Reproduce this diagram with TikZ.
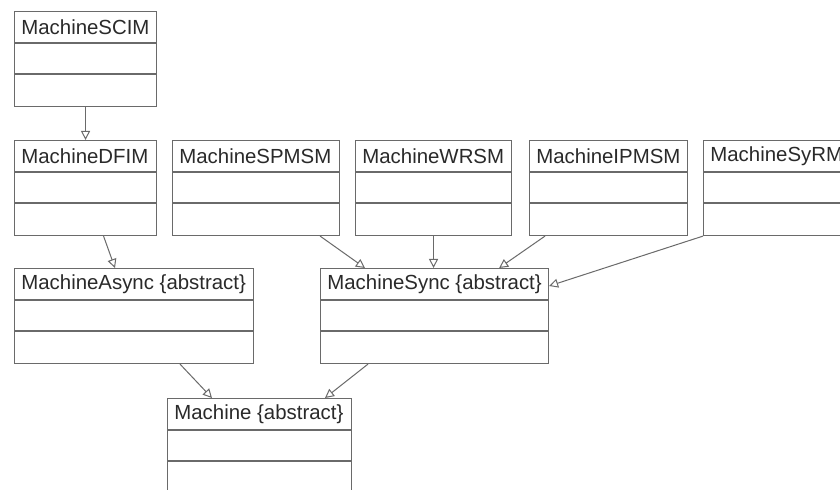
\documentclass[tikz,border=0pt]{standalone}
\usepackage{fontspec}
\setmainfont{Liberation Sans}
\usepackage{tikz}
\usetikzlibrary{arrows.meta}

\definecolor{boxgray}{HTML}{6A6A6A}
\definecolor{textgray}{HTML}{2A2A2A}

\tikzset{
  classbox/.style={draw=boxgray, line width=0.55pt, anchor=north west, inner sep=0pt, minimum height=47.5pt},
  classname/.style={anchor=west, inner sep=0pt, text=textgray, font=\fontsize{10.2}{12}\selectfont},
  inherit/.style={draw=boxgray, line width=0.5pt, -{Triangle[open, length=4.5pt, width=4.5pt]}}
}

% name, x, y, width (px), title
\newcommand{\umlclass}[5]{%
  \node[classbox, minimum width=#4*0.5pt] (#1) at (#2,#3) {};
  \draw[boxgray, line width=0.55pt] ([yshift=-16pt]#1.north west) -- ([yshift=-16pt]#1.north east)
    ([yshift=-31.5pt]#1.north west) -- ([yshift=-31.5pt]#1.north east);
  \node[classname] (#1-title) at ([xshift=3.5pt,yshift=-8pt]#1.north west) {#5};
}

\begin{document}
\begin{tikzpicture}[x=0.5pt, y=-0.5pt]
			\clip (0,0) rectangle (840,490);
			\fill[white] (0,0) rectangle (840,490);
			
			\umlclass{scim}{14}{11}{142}{MachineSCIM}
			
			\umlclass{dfim}{14}{140}{142}{MachineDFIM}
			\umlclass{spmsm}{172}{140}{167}{MachineSPMSM}
			\umlclass{wrsm}{355}{140}{156}{MachineWRSM}
			\umlclass{ipmsm}{529}{140}{158}{MachineIPMSM}
			\umlclass{syrm}{703}{140}{160}{MachineSyRM}
			
			\umlclass{async}{14}{268}{239}{MachineAsync {\{}abstract{\}}}
			\umlclass{sync}{320}{268}{228}{MachineSync {\{}abstract{\}}}
			
			\umlclass{machine}{167}{398}{184}{Machine {\{}abstract{\}}}
			
			% generalisations
			\draw[inherit] (scim.south) -- (dfim.north);
			\draw[inherit] ([xshift=9pt]dfim.south) -- ([xshift=50.5pt]async.north west);
			
			\draw[inherit] ([xshift=-10pt]spmsm.south east) -- ([xshift=22.5pt]sync.north west);
			\draw[inherit] (wrsm.south) -- (wrsm.south |- sync.north);
			\draw[inherit] ([xshift=8pt]ipmsm.south west) -- ([xshift=-25pt]sync.north east);
			\draw[inherit] (syrm.south west) -- ([yshift=-9pt]sync.north east);
			
			\draw[inherit] ([xshift=83pt]async.south west) -- ([xshift=22.5pt]machine.north west);
			\draw[inherit] ([xshift=24pt]sync.south west) -- ([xshift=79pt]machine.north west);
			
		\end{tikzpicture}
\end{document}
